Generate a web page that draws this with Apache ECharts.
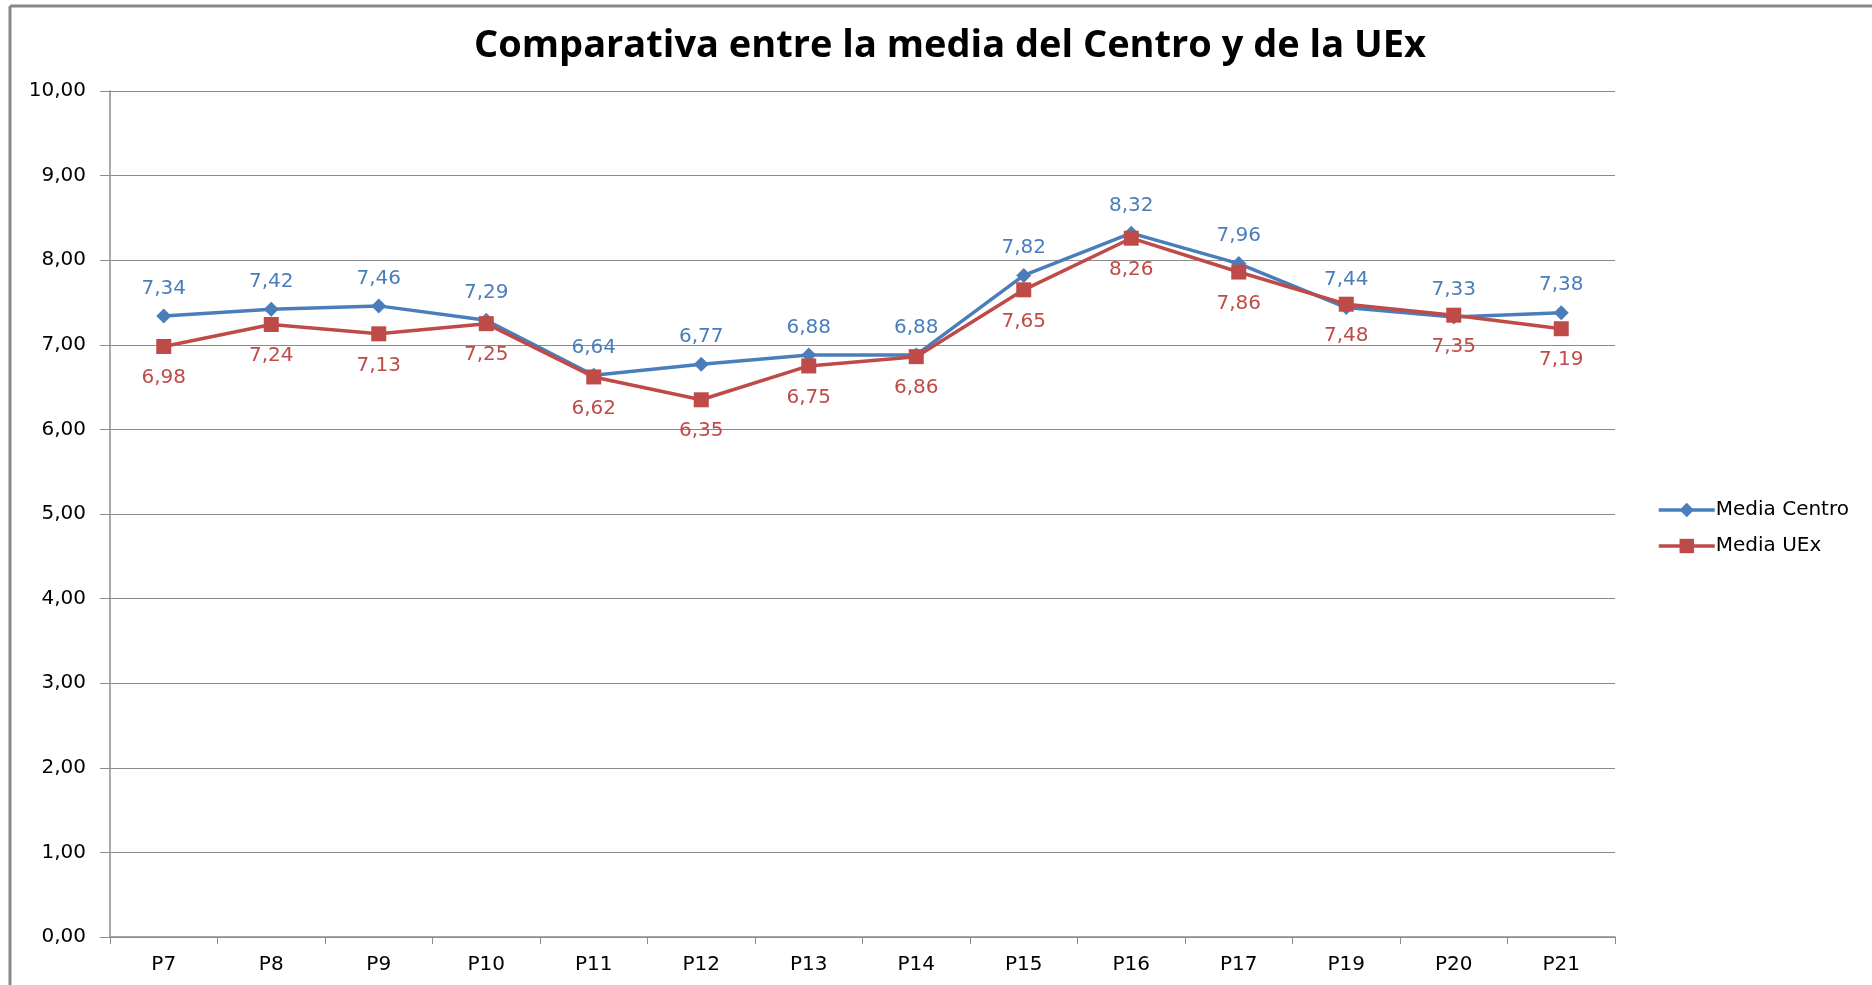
<!DOCTYPE html>
<html lang="es">
<head>
    <meta charset="UTF-8">
    <title>Comparativa entre la media del Centro y de la UEx</title>
    <style type="text/css">
        html, body {
            margin: 0;
            padding: 0;
            background-color: #fff;
        }
        #mediaChart {
            width: 1872px;
            height: 985px;
        }
    </style>
</head>
<body>
<div id="mediaChart"></div>

<script src="https://cdn.jsdelivr.net/npm/echarts@6/dist/echarts.min.js"></script>
<script type="text/javascript">
    // datos
    var preguntas = ['P7', 'P8', 'P9', 'P10', 'P11', 'P12', 'P13', 'P14', 'P15', 'P16', 'P17', 'P19', 'P20', 'P21'];
    var mediaCentro = [7.34, 7.42, 7.46, 7.29, 6.64, 6.77, 6.88, 6.88, 7.82, 8.32, 7.96, 7.44, 7.33, 7.38];
    var mediaUEx = [6.98, 7.24, 7.13, 7.25, 6.62, 6.35, 6.75, 6.86, 7.65, 8.26, 7.86, 7.48, 7.35, 7.19];

    var fuente = '"DejaVu Sans", sans-serif';
    var fuenteTitulo = '"Open Sans", sans-serif';
    var azul = '#4a7ebb';
    var rojo = '#be4b48';
    var gris = '#8c8c8c';

    // coma decimal
    var coma = function (v) {
        return Number(v).toFixed(2).replace('.', ',');
    };

    var mediaChart = echarts.init(document.getElementById('mediaChart'));

    var option = {
        animation: false,
        backgroundColor: '#fff',
        title: {
            text: 'Comparativa entre la media del Centro y de la UEx',
            left: 945,
            top: 22,
            textAlign: 'center',
            textStyle: {
                fontFamily: fuenteTitulo,
                fontWeight: 'bold',
                fontSize: 38,
                color: '#000'
            }
        },
        legend: {
            orient: 'vertical',
            left: 1652,
            top: 495,
            itemWidth: 56,
            itemHeight: 18,
            itemGap: 16,
            data: ['Media Centro', 'Media UEx'],
            lineStyle: { width: 3.5 },
            textStyle: {
                fontFamily: fuente,
                fontSize: 20,
                color: '#000',
                padding: [0, 0, 0, -4]
            }
        },
        grid: {
            left: 110,
            right: 257,
            top: 91,
            bottom: 48,
            containLabel: false
        },
        xAxis: {
            type: 'category',
            data: preguntas,
            boundaryGap: true,
            axisLine: { lineStyle: { color: gris, width: 1.5 } },
            axisTick: { show: true, length: 7, alignWithLabel: false, lineStyle: { color: gris } },
            axisLabel: {
                fontFamily: fuente,
                fontSize: 20,
                color: '#000',
                margin: 18
            },
            splitLine: { show: false }
        },
        yAxis: {
            type: 'value',
            min: 0,
            max: 10,
            interval: 1,
            axisLine: { show: true, lineStyle: { color: gris, width: 1.5 } },
            axisTick: { show: true, length: 10, lineStyle: { color: gris } },
            axisLabel: {
                fontFamily: fuente,
                fontSize: 20,
                color: '#000',
                margin: 24,
                formatter: coma
            },
            splitLine: { lineStyle: { color: gris, width: 1.2 } }
        },
        graphic: [
            {
                type: 'line',
                shape: { x1: 10, y1: 6, x2: 10, y2: 985 },
                style: { stroke: '#888', lineWidth: 3 }
            },
            {
                type: 'line',
                shape: { x1: 10, y1: 6, x2: 1872, y2: 6 },
                style: { stroke: '#888', lineWidth: 3 }
            }
        ],
        series: [
            {
                name: 'Media Centro',
                type: 'line',
                data: mediaCentro,
                symbol: 'diamond',
                symbolSize: 15,
                color: azul,
                lineStyle: { width: 3.5, color: azul },
                itemStyle: { color: azul },
                label: {
                    show: true,
                    position: 'top',
                    distance: 10,
                    fontFamily: fuente,
                    fontSize: 20,
                    color: azul,
                    formatter: function (p) { return coma(p.value); }
                },
                z: 2
            },
            {
                name: 'Media UEx',
                type: 'line',
                data: mediaUEx,
                symbol: 'rect',
                symbolSize: 15,
                color: rojo,
                lineStyle: { width: 3.5, color: rojo },
                itemStyle: { color: rojo },
                label: {
                    show: true,
                    position: 'bottom',
                    distance: 14,
                    fontFamily: fuente,
                    fontSize: 20,
                    color: rojo,
                    formatter: function (p) { return coma(p.value); }
                },
                z: 3
            }
        ]
    };

    mediaChart.setOption(option);
</script>
</body>
</html>
